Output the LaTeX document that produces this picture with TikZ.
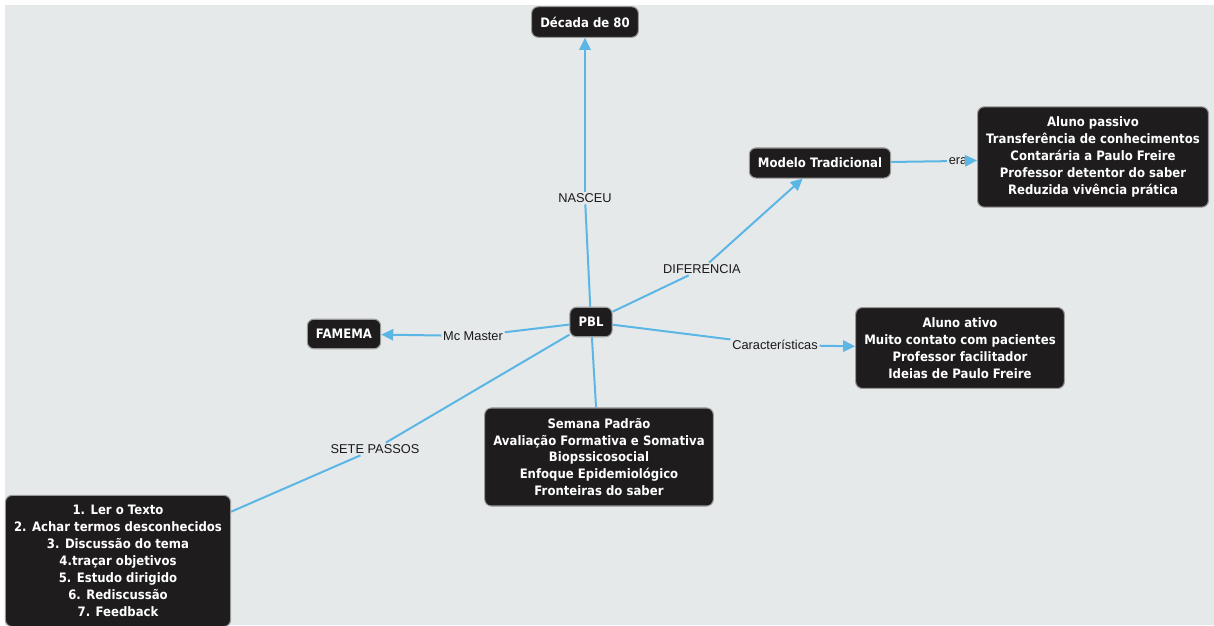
\documentclass[tikz,border=0pt]{standalone}
\usepackage{fontspec}
\usetikzlibrary{arrows.meta}
\newfontfamily\conceptfont[FakeStretch=0.9]{DejaVu Sans Bold}
\newfontfamily\linkfont{Liberation Sans}
\definecolor{mapbg}{RGB}{230,233,234}
\definecolor{linkblue}{RGB}{91,182,230}
\definecolor{boxfill}{RGB}{30,28,28}

\tikzset{every picture/.style={line width=0.75pt}}

\begin{document}
\begin{tikzpicture}[x=0.75pt,y=0.75pt,yscale=-1,
  concept/.style={rectangle,rounded corners=5pt,fill=boxfill,draw=black!40,line width=0.8pt,
    text=white,align=center,inner xsep=6.5pt,inner ysep=7.5pt,
    font=\conceptfont\fontsize{9.75pt}{12.7pt}\selectfont},
  linklabel/.style={inner sep=1pt,text=black!90,font=\linkfont\fontsize{9.6pt}{11pt}\selectfont},
  link/.style={draw=linkblue,line width=1.5pt},
  linkarrow/.style={link,-{Triangle[length=9pt,width=8.5pt]}}]
\useasboundingbox (0,0) rectangle (1214,625);
%background
\fill [white] (0,0) rectangle (1214,625);
\fill [mapbg] (5,5) rectangle (1214,625);

% Concepts
\node [concept] (decada) at (585,22) {Década de 80};
\node [concept] (modelo) at (820,163) {Modelo Tradicional};
\node [concept] (passivo) at (1093,157) {Aluno passivo\\Transferência de conhecimentos\\Contarária a Paulo Freire\\Professor detentor do saber\\Reduzida vivência prática};
\node [concept] (pbl) at (591,322) {PBL};
\node [concept] (famema) at (344,334) {FAMEMA};
\node [concept] (ativo) at (960,348) {Aluno ativo\\Muito contato com pacientes\\Professor facilitador\\Ideias de Paulo Freire};
\node [concept] (semana) at (599,457) {Semana Padrão\\Avaliação Formativa e Somativa\\Biopssicosocial\\Enfoque Epidemiológico\\Fronteiras do saber};
\node [concept] (passos) at (118,561) {1. Ler o Texto\\2. Achar termos desconhecidos\\3. Discussão do tema\\4.traçar objetivos\\5. Estudo dirigido\\6. Rediscussão\\7. Feedback};

% Link labels
\node [linklabel] (nasceu) at (585,198) {NASCEU};
\node [linklabel] (diferencia) at (702,269) {DIFERENCIA};
\node [linklabel] (era) at (958,161) {era};
\node [linklabel] (mcmaster) at (473,336) {Mc Master};
\node [linklabel] (caract) at (775,345) {Características};
\node [linklabel] (sete) at (375,449) {SETE PASSOS};

% Links
\draw [link] (pbl) -- (nasceu);
\draw [linkarrow] (nasceu) -- (decada);
\draw [link] (pbl) -- (diferencia);
\draw [linkarrow] (diferencia) -- (modelo);
\draw [link] (modelo) -- (era);
\draw [linkarrow] (era) -- (passivo);
\draw [link] (pbl) -- (mcmaster);
\draw [linkarrow] (mcmaster) -- (famema);
\draw [link] (pbl) -- (caract);
\draw [linkarrow] (caract) -- (ativo);
\draw [link] (pbl) -- (semana);
\draw [link] (pbl) -- (sete);
\draw [link] (sete) -- (passos);

\end{tikzpicture}
\end{document}
